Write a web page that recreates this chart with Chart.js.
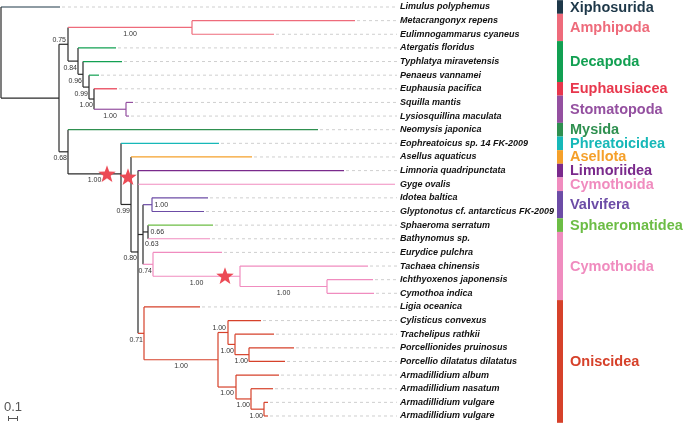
<!DOCTYPE html>
<html>
<head>
<meta charset="utf-8">
<script src="https://cdn.jsdelivr.net/npm/chart.js@4"></script>
<style>
  html, body { margin: 0; padding: 0; background: #fff; }
  canvas { display: block; }
</style>
</head>
<body>
<canvas id="tree" width="683" height="424"></canvas>
<script>
// tips, top to bottom
const taxa = [
    'Limulus polyphemus', 'Metacrangonyx repens', 'Eulimnogammarus cyaneus',
    'Atergatis floridus', 'Typhlatya miravetensis', 'Penaeus vannamei',
    'Euphausia pacifica', 'Squilla mantis', 'Lysiosquillina maculata',
    'Neomysis japonica', 'Eophreatoicus sp. 14 FK-2009', 'Asellus aquaticus',
    'Limnoria quadripunctata', 'Gyge ovalis', 'Idotea baltica',
    'Glyptonotus cf. antarcticus FK-2009', 'Sphaeroma serratum', 'Bathynomus sp.',
    'Eurydice pulchra', 'Tachaea chinensis', 'Ichthyoxenos japonensis',
    'Cymothoa indica', 'Ligia oceanica', 'Cylisticus convexus',
    'Trachelipus rathkii', 'Porcellionides pruinosus', 'Porcellio dilatatus dilatatus',
    'Armadillidium album', 'Armadillidium nasatum', 'Armadillidium vulgare',
    'Armadillidium vulgare'
]

// terminal branch length of each tip (same order)
const tipLengths = [
    0.59, 1.63, 0.82, 0.38, 0.39, 0.10, 0.23, 0.07, 0.03, 2.50,
    0.98, 1.21, 2.06, 2.57, 0.56, 0.52, 0.65, 0.62, 0.69, 1.28,
    0.46, 0.47, 0.56, 0.33, 0.39, 0.45, 0.36, 0.43, 0.22, 0.04,
    0.04
]

// internal nodes: id, children (tip index or node id), branch length, support
const clades = [
    ['root', [0, 'A'], 0, ''],
    ['A', ['B', 'C'], 0.58, ''],
    ['B', ['amph', 'D1'], 0.09, '0.75'],
    ['amph', [1, 2], 1.24, '1.00'],
    ['D1', [3, 'D2'], 0.10, '0.84'],
    ['D2', [4, 'D3'], 0.05, '0.96'],
    ['D3', [5, 'D4'], 0.06, '0.99'],
    ['D4', [6, 'stom'], 0.05, '1.00'],
    ['stom', [7, 8], 0.32, '1.00'],
    ['C', [9, 'iso'], 0.09, '0.68'],
    ['iso', [10, 'D'], 0.53, '1.00'],
    ['D', [11, 'E'], 0.10, '0.99'],
    ['E', [12, 13, 'G', 'F'], 0.07, '0.80'],
    ['G', ['V', 'S', 'cy'], 0.05, '0.63'],
    ['V', [14, 15], 0.09, '1.00'],
    ['S', [16, 17], 0.05, '0.66'],
    ['cy', [18, 'K'], 0.10, '0.74'],
    ['K', [19, 'L'], 0.87, '1.00'],
    ['L', [20, 21], 0.87, '1.00'],
    ['F', [22, 'H'], 0.06, '0.71'],
    ['H', ['P1', 'A1'], 0.74, '1.00'],
    ['P1', [23, 'P2'], 0.10, '1.00'],
    ['P2', [24, 'P3'], 0.07, '1.00'],
    ['P3', [25, 26], 0.14, '1.00'],
    ['A1', [27, 'A2'], 0.18, '1.00'],
    ['A2', [28, 'A3'], 0.15, '1.00'],
    ['A3', [29, 30], 0.13, '1.00']
]

// orders on the right, as tip index ranges
const groupNames = ['Xiphosurida', 'Amphipoda', 'Decapoda', 'Euphausiacea', 'Stomatopoda', 'Mysida',
    'Phreatoicidea', 'Asellota', 'Limnoriidea', 'Cymothoida', 'Valvifera', 'Sphaeromatidea',
    'Cymothoida', 'Oniscidea']
const groupFirst = [0, 1, 3, 6, 7, 9, 10, 11, 12, 13, 14, 16, 17, 22]
const groupLast = [0, 2, 5, 6, 8, 9, 10, 11, 12, 13, 15, 16, 21, 30]
const groupColors = ['#1e3849', '#ee6b7b', '#12a052', '#e8374d', '#9450a0', '#2f9050',
    '#17b8b8', '#f5a02a', '#7a2a8c', '#f08cbf', '#6c4ca6', '#6cbd45', '#f08cbf', '#d6412a']

// red stars (branch length units, tip rows)
const starX = [1.06, 1.27, 2.24]
const starY = [12.25, 12.47, 19.73]

const scaleBarValue = 0.1


// ---- layout ----
const PX = 100                 // pixels per unit of branch length
const X_MIN = -0.01
const X_MAX = X_MIN + 683 / PX
const ROW = 13.633
const Y_MIN = -7 / ROW
const Y_MAX = Y_MIN + 424 / ROW
const LEADER_END = 397
const LABEL_X = 400
const BAR_X = 557
const GROUP_X = 570

const labelSide = { B: 'above', P1: 'above', V: 'right', S: 'right', G: 'after' }

const tipColor = i => groupColors[groupFirst.findIndex((f, g) => i >= f && i <= groupLast[g])]

const byId = {}
clades.forEach(([id, kids, len, support]) => byId[id] = { kids, len, support })

const nodes = []
const place = (ref, parentX) => {
    if (typeof ref === 'number') {
        const n = { tip: ref, px: parentX, x: parentX + tipLengths[ref], y: ref, tips: [ref] }
        nodes.push(n)
        return n
    }
    const c = byId[ref]
    const x = parentX + c.len
    const kids = c.kids.map(k => place(k, x))
    const n = {
        id: ref, px: parentX, x, kids, support: c.support,
        y: (kids[0].y + kids[kids.length - 1].y) / 2,
        tips: kids.flatMap(k => k.tips)
    }
    nodes.push(n)
    return n
}
place('root', 0)

nodes.forEach(n => {
    const cols = [...new Set(n.tips.map(tipColor))]
    n.color = cols.length === 1 ? cols[0] : '#2a2a2a'
})


// ---- datasets ----
const seg = (a, b, color, extra = {}) => ({
    data: [a, b],
    showLine: true,
    borderColor: color,
    borderWidth: 1.2,
    pointRadius: 0,
    tension: 0,
    ...extra
})

const datasets = []

nodes.filter(n => n.tip !== undefined).forEach(n => {
    const end = X_MIN + LEADER_END / PX
    if (n.x + 0.03 < end) {
        datasets.push(seg({ x: n.x + 0.02, y: n.y }, { x: end, y: n.y }, '#cfcfcf',
            { borderWidth: 1, borderDash: [3, 3], order: 5 }))
    }
})

nodes.forEach(n => {
    if (n.x > n.px) datasets.push(seg({ x: n.px, y: n.y }, { x: n.x, y: n.y }, n.color))
    if (n.kids) {
        datasets.push(seg({ x: n.x, y: n.kids[0].y }, { x: n.x, y: n.kids[n.kids.length - 1].y }, n.color))
    }
})

const starImg = document.createElement('canvas')
starImg.width = 20
starImg.height = 20
{
    const c = starImg.getContext('2d')
    c.beginPath()
    for (let i = 0; i < 10; i++) {
        const r = i % 2 ? 3.8 : 9.2
        const a = -Math.PI / 2 + i * Math.PI / 5
        c.lineTo(10 + r * Math.cos(a), 10.5 + r * Math.sin(a))
    }
    c.closePath()
    c.fillStyle = '#ec4a55'
    c.fill()
}

datasets.push({
    data: starX.map((x, i) => ({ x, y: starY[i] })),
    pointStyle: starImg,
    pointRadius: 9,
    showLine: false,
    order: -1
})


// ---- text, bars, scale ----
const annotate = {
    id: 'annotate',
    afterDatasetsDraw(chart) {
        const { ctx, scales: { x, y } } = chart
        ctx.save()

        // tip names
        ctx.font = 'bold italic 9px "Liberation Sans", Arial, sans-serif'
        ctx.fillStyle = '#111'
        ctx.textBaseline = 'middle'
        ctx.textAlign = 'left'
        taxa.forEach((name, i) => ctx.fillText(name, LABEL_X, y.getPixelForValue(i)))

        // supports
        ctx.font = '7px "Liberation Sans", Arial, sans-serif'
        ctx.fillStyle = '#333'
        nodes.filter(n => n.support).forEach(n => {
            const nx = x.getPixelForValue(n.x)
            const px = x.getPixelForValue(n.px)
            const ny = y.getPixelForValue(n.y)
            const w = ctx.measureText(n.support).width
            const side = labelSide[n.id] || 'below'
            if (side === 'above') {
                ctx.textAlign = 'right'
                ctx.fillText(n.support, nx - 2, ny - 4.5)
            } else if (side === 'right') {
                ctx.textAlign = 'left'
                ctx.fillText(n.support, nx + 2.5, ny)
            } else if (side === 'after') {
                ctx.textAlign = 'left'
                ctx.fillText(n.support, nx + 2, ny + 9.5)
            } else if (nx - px >= w + 4) {
                ctx.textAlign = 'center'
                ctx.fillText(n.support, (nx + px) / 2, ny + 6.5)
            } else {
                ctx.textAlign = 'right'
                ctx.fillText(n.support, nx - 1, ny + 6.5)
            }
        })

        // order bars and names
        ctx.font = 'bold 14.5px "Liberation Sans", Arial, sans-serif'
        ctx.textAlign = 'left'
        groupNames.forEach((g, i) => {
            const top = y.getPixelForValue(groupFirst[i] - 0.5)
            const bottom = y.getPixelForValue(groupLast[i] + 0.5)
            ctx.fillStyle = groupColors[i]
            ctx.fillRect(BAR_X, top, 6, bottom - top)
            ctx.fillText(g, GROUP_X, (top + bottom) / 2 + 0.5)
        })

        // scale bar
        const x0 = 8
        const x1 = x0 + scaleBarValue * PX
        ctx.strokeStyle = '#555'
        ctx.lineWidth = 1
        ctx.beginPath()
        ctx.moveTo(x0, 418.5); ctx.lineTo(x1, 418.5)
        ctx.moveTo(x0 + 0.5, 416); ctx.lineTo(x0 + 0.5, 421)
        ctx.moveTo(x1 - 0.5, 416); ctx.lineTo(x1 - 0.5, 421)
        ctx.stroke()
        ctx.font = '13px "Liberation Sans", Arial, sans-serif'
        ctx.fillStyle = '#555'
        ctx.textBaseline = 'alphabetic'
        ctx.fillText(String(scaleBarValue), 4, 411)

        ctx.restore()
    }
}

new Chart('tree', {
    type: 'scatter',
    data: { datasets },
    options: {
        responsive: false,
        animation: false,
        events: [],
        layout: { padding: 0, autoPadding: false },
        plugins: {
            legend: { display: false },
            tooltip: { enabled: false }
        },
        scales: {
            x: { type: 'linear', display: false, min: X_MIN, max: X_MAX },
            y: { type: 'linear', display: false, reverse: true, min: Y_MIN, max: Y_MAX }
        }
    },
    plugins: [annotate]
})
</script>
</body>
</html>
